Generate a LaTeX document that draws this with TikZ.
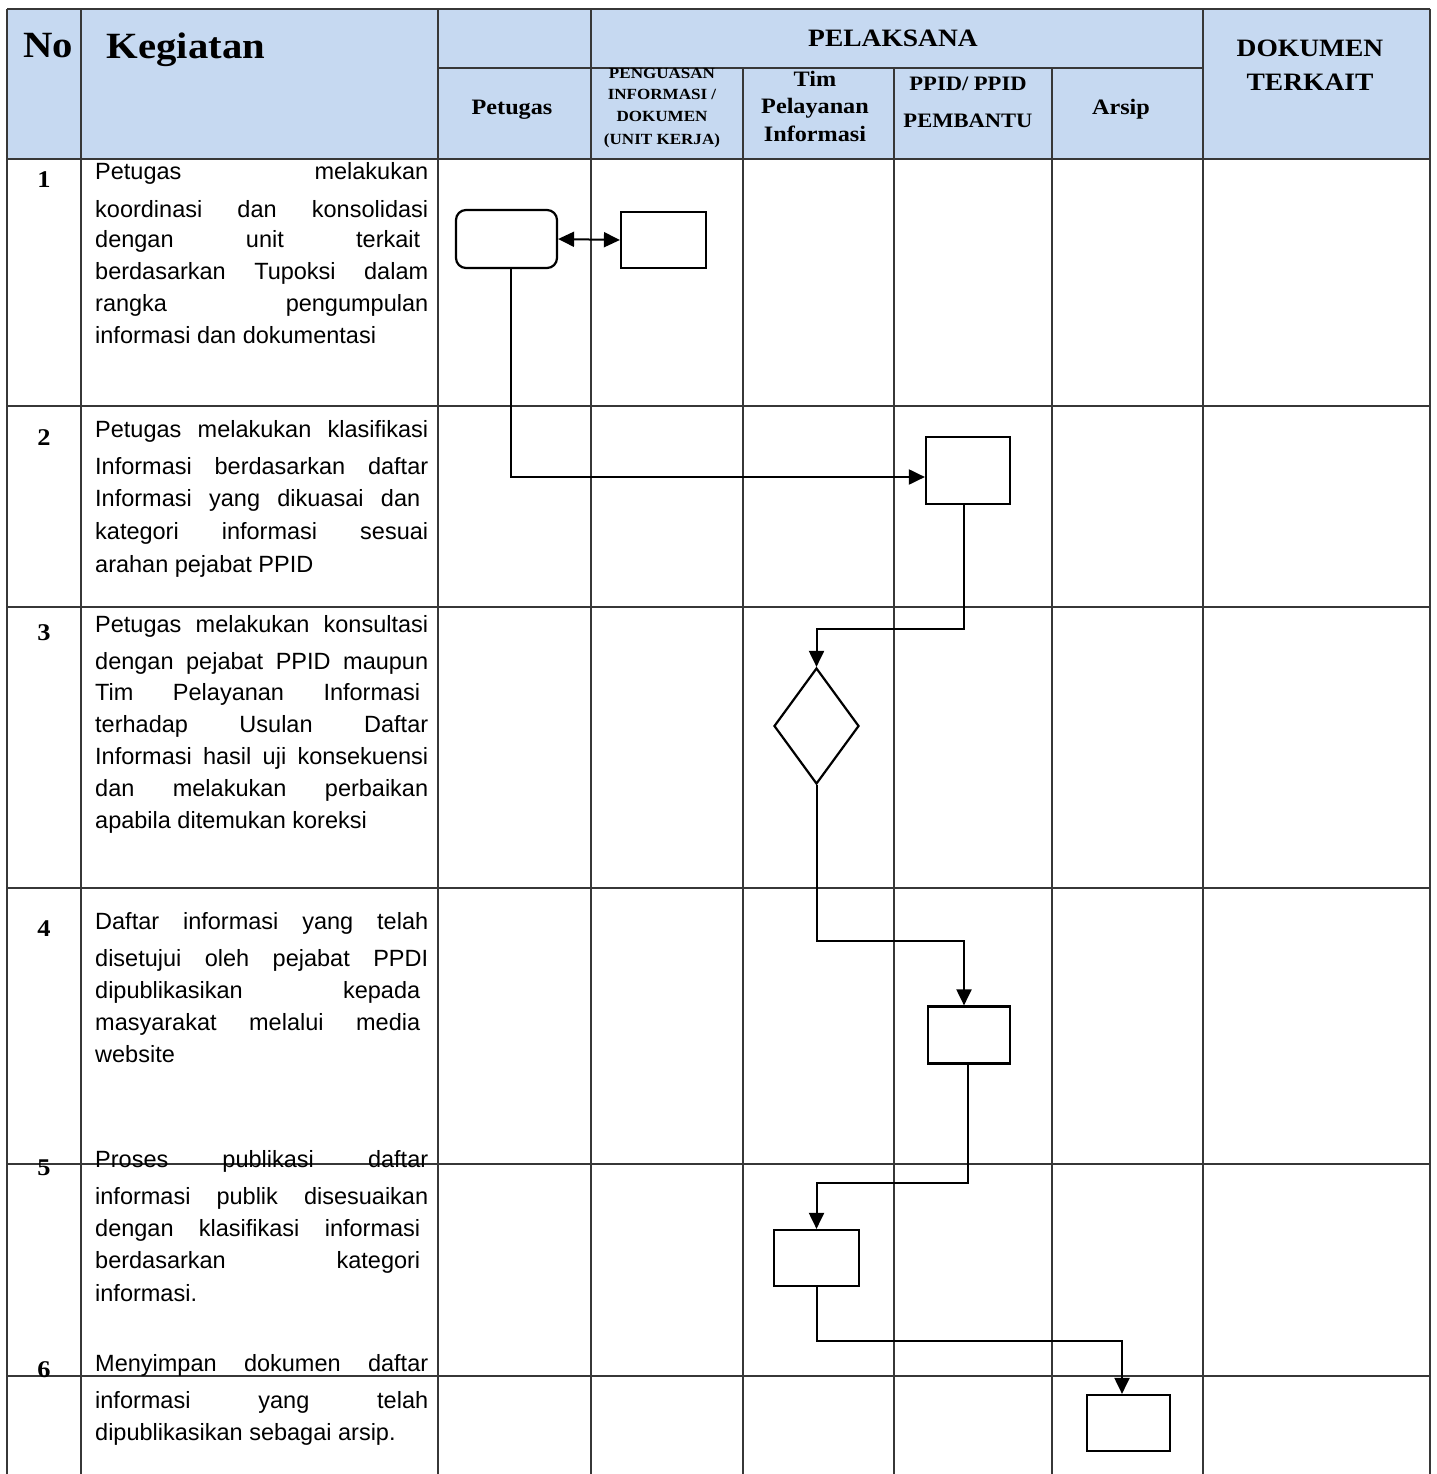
\documentclass[tikz,border=0pt]{standalone}
\usepackage{fontspec}
\setmainfont{Liberation Sans}
\newfontfamily\hdr[FakeStretch=1.1]{Liberation Serif}
\usetikzlibrary{arrows.meta,shapes.geometric}
\definecolor{hdrblue}{RGB}{198,217,241}
\definecolor{gridc}{RGB}{55,55,55}
\newcommand\txtf{\fontsize{23.5}{28}\selectfont}
\newcommand\jl[4]{\node[txt] (#1) at (95,#2) {\makebox[#3pt][s]{#4}};}
\newcommand\nl[3]{\node[txt] (#1) at (95,#2) {#3};}
\begin{document}
\begin{tikzpicture}[x=1pt,y=-1pt,
  gridline/.style={draw=gridc,line width=1.4pt},
  txt/.style={anchor=base west,inner sep=0pt,font=\txtf},
  hd/.style={anchor=base,inner sep=0pt,font=\hdr\bfseries\fontsize{#1}{#1}\selectfont},
  num/.style={anchor=base,inner sep=0pt,font=\hdr\bfseries\fontsize{24}{24}\selectfont},
  shp/.style={draw=black,line width=2.2pt,inner sep=0pt,fill=white},
  tip/.style={Triangle[length=16pt,width=15pt]},
  flow/.style={draw=black,line width=2pt,-{Triangle[length=16pt,width=15pt]}},
]
\useasboundingbox (0,0) rectangle (1436,1474);
% header background
\fill[hdrblue] (7,9) rectangle (1430,159);
% grid lines
\draw[gridline] (7,9) -- (1430,9);
\draw[gridline] (438,68) -- (1203,68);
\draw[gridline] (7,159) -- (1430,159);
\foreach \yy in {406,607,888,1164,1376} \draw[gridline] (7,\yy) -- (1430,\yy);
\foreach \xx in {7,81,438,591,1203,1430} \draw[gridline] (\xx,9) -- (\xx,1474);
\foreach \xx in {743,894,1052} \draw[gridline] (\xx,68) -- (\xx,1474);
% header texts
\node[hd=37] (hno) at (48,58) {No};
\node[hd=37] (hkeg) at (186,59) {Kegiatan};
\node[hd=25] (hpel) at (893,47) {PELAKSANA};
\node[hd=25] (hdok1) at (1310,57) {DOKUMEN};
\node[hd=25] (hdok2) at (1310,91) {TERKAIT};
\node[hd=22] (hpet) at (512,115) {Petugas};
\node[hd=15.5] (hpg1) at (662,79) {PENGUASAN};
\node[hd=15.5] (hpg2) at (662,100) {INFORMASI /};
\node[hd=15.5] (hpg3) at (662,122) {DOKUMEN};
\node[hd=15.5] (hpg4) at (662,145) {(UNIT KERJA)};
\node[hd=22] (htim1) at (815,87) {Tim};
\node[hd=22] (htim2) at (815,114) {Pelayanan};
\node[hd=22] (htim3) at (815,142) {Informasi};
\node[hd=20.5] (hppid1) at (968,91) {PPID/ PPID};
\node[hd=20.5] (hppid2) at (968,128) {PEMBANTU};
\node[hd=22] (hars) at (1121,115) {Arsip};
% row numbers
\node[num] (r1) at (44,188) {1};
\node[num] (r2) at (44,445) {2};
\node[num] (r3) at (44,640) {3};
\node[num] (r4) at (44,936) {4};
\node[num] (r5) at (44,1175) {5};
\node[num] (r6) at (44,1377) {6};
% row 1 text
\jl{t1a}{180}{333}{Petugas melakukan}
\jl{t1b}{217}{333}{koordinasi dan konsolidasi}
\jl{t1c}{247}{325}{dengan unit terkait}
\jl{t1d}{279}{333}{berdasarkan Tupoksi dalam}
\jl{t1e}{311}{333}{rangka pengumpulan}
\nl{t1f}{343}{informasi dan dokumentasi}
% row 2 text
\jl{t2a}{437}{333}{Petugas melakukan klasifikasi}
\jl{t2b}{474}{333}{Informasi berdasarkan daftar}
\jl{t2c}{506}{325}{Informasi yang dikuasai dan}
\jl{t2d}{539}{333}{kategori informasi sesuai}
\nl{t2e}{572}{arahan pejabat PPID}
% row 3 text
\jl{t3a}{632}{333}{Petugas melakukan konsultasi}
\jl{t3b}{669}{333}{dengan pejabat PPID maupun}
\jl{t3c}{700}{325}{Tim Pelayanan Informasi}
\jl{t3d}{732}{333}{terhadap Usulan Daftar}
\jl{t3e}{764}{333}{Informasi hasil uji konsekuensi}
\jl{t3f}{796}{333}{dan melakukan perbaikan}
\nl{t3g}{828}{apabila ditemukan koreksi}
% row 4 text
\jl{t4a}{929}{333}{Daftar informasi yang telah}
\jl{t4b}{966}{333}{disetujui oleh pejabat PPDI}
\jl{t4c}{998}{325}{dipublikasikan kepada}
\jl{t4d}{1030}{325}{masyarakat melalui media}
\nl{t4e}{1062}{website}
% row 5 text
\jl{t5a}{1167}{333}{Proses publikasi daftar}
\jl{t5b}{1204}{333}{informasi publik disesuaikan}
\jl{t5c}{1236}{325}{dengan klasifikasi informasi}
\jl{t5d}{1268}{325}{berdasarkan kategori}
\nl{t5e}{1301}{informasi.}
% row 6 text
\jl{t6a}{1371}{333}{Menyimpan dokumen daftar}
\jl{t6b}{1408}{333}{informasi yang telah}
\nl{t6c}{1440}{dipublikasikan sebagai arsip.}
% shapes
\node[shp,rectangle,rounded corners=10pt,minimum width=101pt,minimum height=58pt] (s1a) at (506.5,239) {};
\node[shp,rectangle,minimum width=85pt,minimum height=56pt] (s1b) at (663.5,240) {};
\node[shp,rectangle,minimum width=84pt,minimum height=67pt] (s2) at (968,470.5) {};
\node[shp,diamond,minimum width=85pt,minimum height=116pt] (s3) at (816.5,726) {};
\node[shp,rectangle,minimum width=82pt,minimum height=57pt] (s4) at (969,1035) {};
\node[shp,rectangle,minimum width=85pt,minimum height=56pt] (s5) at (816.5,1258) {};
\node[shp,rectangle,minimum width=83pt,minimum height=56pt] (s6) at (1128.5,1423) {};
% bend points
\coordinate (c1) at (511,477);
\coordinate (c2a) at (964,629);
\coordinate (c2b) at (816.5,629);
\coordinate (c3a) at (816.5,941);
\coordinate (c3b) at (964,941);
\coordinate (c4a) at (968,1183);
\coordinate (c4b) at (816.5,1183);
\coordinate (c5a) at (816.5,1341);
\coordinate (c5b) at (1122,1341);
% connectors
\draw[draw=black,line width=2pt,{Triangle[length=16pt,width=15pt]}-{Triangle[length=16pt,width=15pt]}] (s1a.east) -- (s1b.west);
\draw[flow] (s1a.south -| c1) -- (c1) -- (c1 -| s2.west);
\draw[flow] (s2.south -| c2a) -- (c2a) -- (c2b) -- (s3.north);
\draw[flow] (s3.south) -- (c3a) -- (c3b) -- (c3b |- s4.north);
\draw[flow] (s4.south -| c4a) -- (c4a) -- (c4b) -- (s5.north);
\draw[flow] (s5.south) -- (c5a) -- (c5b) -- (c5b |- s6.north);
\end{tikzpicture}
\end{document}
